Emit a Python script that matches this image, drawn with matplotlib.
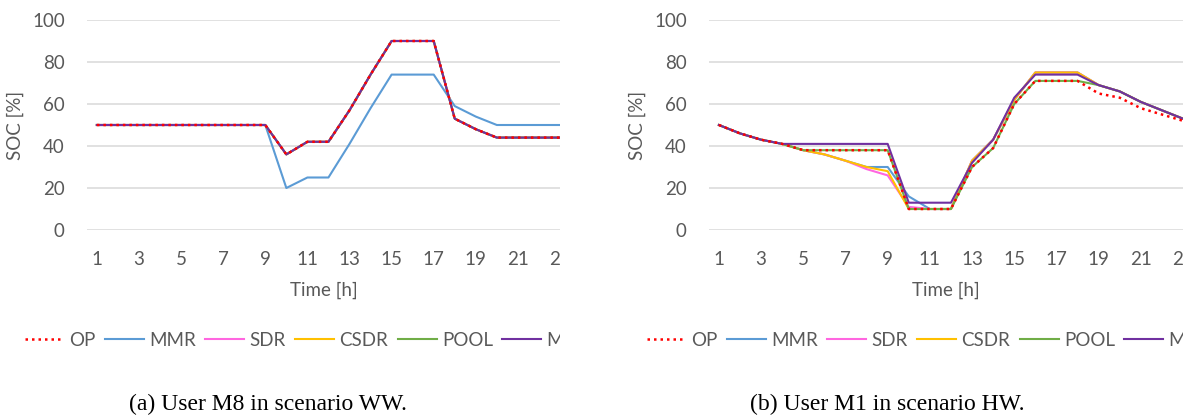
import matplotlib
matplotlib.use('Agg')
import matplotlib.pyplot as plt
from matplotlib.transforms import Bbox, TransformedBbox

# data
hours = [1, 2, 3, 4, 5, 6, 7, 8, 9, 10, 11, 12, 13, 14, 15, 16, 17, 18, 19, 20, 21, 22, 23]
xticks = [1, 3, 5, 7, 9, 11, 13, 15, 17, 19, 21, 23]
names = ['OP', 'MMR', 'SDR', 'CSDR', 'POOL', 'M']

# (a) user M8, scenario WW
ww_op = [50, 50, 50, 50, 50, 50, 50, 50, 50, 36, 42, 42, 57, 74, 90, 90, 90, 53, 48, 44, 44, 44, 44]
ww_mmr = [50, 50, 50, 50, 50, 50, 50, 50, 50, 20, 25, 25, 41, 58, 74, 74, 74, 59, 54, 50, 50, 50, 50]
ww_sdr = [50, 50, 50, 50, 50, 50, 50, 50, 50, 36, 42, 42, 57, 74, 90, 90, 90, 53, 48, 44, 44, 44, 44]
ww_csdr = [50, 50, 50, 50, 50, 50, 50, 50, 50, 36, 42, 42, 57, 74, 90, 90, 90, 53, 48, 44, 44, 44, 44]
ww_pool = [50, 50, 50, 50, 50, 50, 50, 50, 50, 36, 42, 42, 57, 74, 90, 90, 90, 53, 48, 44, 44, 44, 44]
ww_m = [50, 50, 50, 50, 50, 50, 50, 50, 50, 36, 42, 42, 57, 74, 90, 90, 90, 53, 48, 44, 44, 44, 44]

# (b) user M1, scenario HW
hw_op = [50, 46, 43, 41, 38, 38, 38, 38, 38, 10, 10, 10, 30, 39, 60, 71, 71, 71, 65, 63, 58, 55, 52]
hw_mmr = [50, 46, 43, 41, 38, 36, 33, 30, 30, 16, 10, 10, 33, 43, 62, 75, 75, 75, 69, 66, 61, 57, 53]
hw_sdr = [50, 46, 43, 41, 38, 36, 33, 29, 26, 11, 10, 10, 33, 43, 62, 75, 75, 75, 69, 66, 61, 57, 53]
hw_csdr = [50, 46, 43, 41, 38, 36, 33, 30, 28, 10, 10, 10, 33, 43, 62, 75, 75, 75, 69, 66, 61, 57, 53]
hw_pool = [50, 46, 43, 41, 38, 38, 38, 38, 38, 10, 10, 10, 30, 39, 60, 71, 71, 71, 69, 66, 61, 57, 53]
hw_m = [50, 46, 43, 41, 41, 41, 41, 41, 41, 13, 13, 13, 32, 43, 63, 74, 74, 74, 69, 66, 61, 57, 53]

captions = ['(a) User M8 in scenario WW.', '(b) User M1 in scenario HW.']

colors = ['#FF0000', '#5B9BD5', '#FF66E0', '#FFC000', '#70AD47', '#7030A0']
grey = '#595959'
fs = 13.5

plt.rcParams['font.family'] = ['Lato', 'DejaVu Sans']

fig = plt.figure(figsize=(11.92, 4.18), dpi=100)

# axes boxes in figure fractions
boxes = [[87 / 1192, 188 / 418, 473 / 1192, 210 / 418],
         [709 / 1192, 188 / 418, 474 / 1192, 210 / 418]]
xlims = [(0.53, 22.8), (0.53, 22.9)]
legend_x = [25 / 1192, 647 / 1192]
caption_x = [268 / 1192, 887 / 1192]

panels = [[ww_op, ww_mmr, ww_sdr, ww_csdr, ww_pool, ww_m],
          [hw_op, hw_mmr, hw_sdr, hw_csdr, hw_pool, hw_m]]

for i in range(2):
    ax = fig.add_axes(boxes[i])
    series = panels[i]
    handles = [None] * 6
    # others first, OP dotted on top
    for k in range(1, 6):
        handles[k], = ax.plot(hours, series[k], color=colors[k], lw=1.5, label=names[k], zorder=2 + k)
    handles[0], = ax.plot(hours, series[0], color=colors[0], lw=1.8, linestyle=(0, (1, 1.6)),
                          label=names[0], zorder=10)

    ax.set_xlim(xlims[i])
    ax.set_ylim(0, 100)
    ax.set_yticks([0, 20, 40, 60, 80, 100])
    ax.set_xticks(xticks)
    ax.grid(axis='y', color='#D9D9D9', lw=1.1)
    ax.set_axisbelow(True)
    for s in ax.spines.values():
        s.set_visible(False)
    ax.tick_params(axis='both', length=0, labelsize=fs, labelcolor=grey)
    ax.tick_params(axis='x', pad=15)
    ax.tick_params(axis='y', pad=16)
    ax.set_xlabel('Time [h]', fontsize=fs, color=grey, labelpad=10)
    ax.set_ylabel('SOC [%]', fontsize=fs, color=grey, labelpad=6)

    leg = ax.legend(handles=handles, loc='center left', ncol=6, frameon=False,
                    bbox_to_anchor=(legend_x[i], 1 - 340 / 418), bbox_transform=fig.transFigure,
                    borderpad=0, borderaxespad=0, handlelength=2.08, handletextpad=0.28,
                    columnspacing=0.5, fontsize=fs, labelcolor=grey)

    # the picture is cut at the right edge of each panel
    right = boxes[i][0] + boxes[i][2]
    clip = TransformedBbox(Bbox([[0, 0], [right, 1]]), fig.transFigure)
    for a in leg.findobj():
        a.set_clip_box(clip)
        a.set_clip_on(True)
    for t in ax.xaxis.get_major_ticks():
        t.label1.set_clip_box(clip)
        t.label1.set_clip_on(True)

    fig.text(caption_x[i], 1 - 404 / 418, captions[i], ha='center', va='center',
             fontsize=17, family='Liberation Serif', color='black')

plt.savefig('out.png', dpi=100)
